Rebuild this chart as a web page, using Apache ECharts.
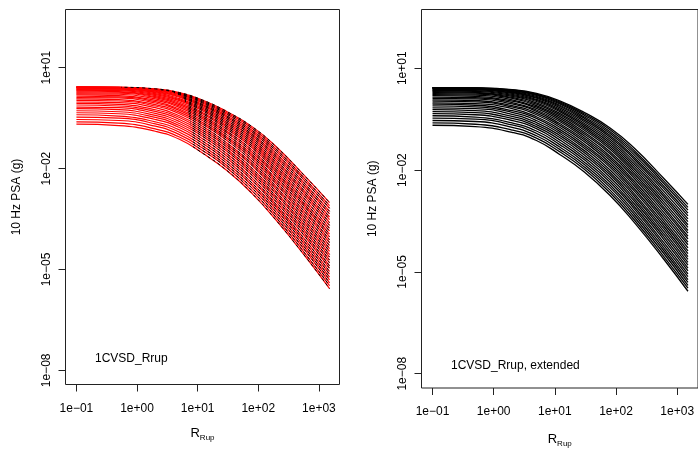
<!DOCTYPE html>
<html>
<head>
<meta charset="utf-8">
<script src="https://cdn.jsdelivr.net/npm/echarts@6/dist/echarts.min.js"></script>
<style>html,body{margin:0;padding:0;background:#fff}#c{width:698px;height:453px}</style>
</head>
<body>
<div id="c"></div>
<script>
const distanceKm = [0.1, 0.5, 2, 5, 12, 30, 80, 200, 600, 1500];

// log10 of 10 Hz PSA (g) for the 31 curves (lowest curve first) at each distance
const log10Psa_R0p1  = [-0.68,-0.61,-0.54,-0.47,-0.40,-0.34,-0.28,-0.22,-0.17,-0.11,-0.06,-0.02,0.03,0.07,0.11,0.15,0.19,0.22,0.25,0.28,0.31,0.33,0.35,0.37,0.39,0.40,0.41,0.42,0.43,0.43,0.43];
const log10Psa_R0p5  = [-0.72,-0.65,-0.57,-0.50,-0.44,-0.37,-0.31,-0.25,-0.19,-0.14,-0.09,-0.04,0.01,0.05,0.10,0.13,0.17,0.21,0.24,0.27,0.29,0.32,0.34,0.36,0.37,0.39,0.40,0.41,0.41,0.42,0.42];
const log10Psa_R2    = [-0.89,-0.82,-0.74,-0.67,-0.61,-0.54,-0.48,-0.42,-0.36,-0.30,-0.25,-0.19,-0.14,-0.10,-0.05,-0.01,0.03,0.07,0.11,0.14,0.17,0.20,0.23,0.26,0.28,0.30,0.32,0.33,0.35,0.36,0.37];
const log10Psa_R5    = [-1.13,-1.06,-0.99,-0.92,-0.85,-0.78,-0.72,-0.66,-0.60,-0.54,-0.48,-0.43,-0.37,-0.32,-0.27,-0.23,-0.18,-0.14,-0.10,-0.06,-0.02,0.02,0.05,0.08,0.12,0.14,0.17,0.20,0.22,0.24,0.26];
const log10Psa_R12   = [-1.54,-1.46,-1.39,-1.32,-1.25,-1.18,-1.11,-1.04,-0.98,-0.92,-0.86,-0.80,-0.74,-0.68,-0.63,-0.57,-0.52,-0.47,-0.42,-0.37,-0.33,-0.28,-0.24,-0.20,-0.16,-0.12,-0.09,-0.05,-0.02,0.01,0.04];
const log10Psa_R30   = [-2.05,-1.97,-1.90,-1.83,-1.76,-1.69,-1.62,-1.55,-1.48,-1.42,-1.35,-1.29,-1.23,-1.16,-1.10,-1.05,-0.99,-0.93,-0.88,-0.82,-0.77,-0.72,-0.67,-0.62,-0.57,-0.52,-0.47,-0.43,-0.38,-0.34,-0.30];
const log10Psa_R80   = [-2.75,-2.67,-2.59,-2.51,-2.44,-2.36,-2.29,-2.21,-2.14,-2.07,-2.00,-1.92,-1.86,-1.79,-1.72,-1.65,-1.59,-1.52,-1.46,-1.39,-1.33,-1.27,-1.21,-1.15,-1.09,-1.03,-0.98,-0.92,-0.87,-0.81,-0.76];
const log10Psa_R200  = [-3.55,-3.47,-3.39,-3.31,-3.23,-3.15,-3.08,-3.00,-2.92,-2.85,-2.77,-2.70,-2.62,-2.55,-2.47,-2.40,-2.33,-2.25,-2.18,-2.11,-2.04,-1.97,-1.90,-1.83,-1.76,-1.69,-1.63,-1.56,-1.49,-1.43,-1.36];
const log10Psa_R600  = [-4.62,-4.54,-4.45,-4.37,-4.29,-4.21,-4.13,-4.04,-3.96,-3.88,-3.80,-3.72,-3.64,-3.56,-3.48,-3.40,-3.32,-3.24,-3.16,-3.09,-3.01,-2.93,-2.85,-2.77,-2.70,-2.62,-2.54,-2.47,-2.39,-2.32,-2.24];
const log10Psa_R1500 = [-5.57,-5.48,-5.40,-5.31,-5.23,-5.14,-5.06,-4.97,-4.89,-4.80,-4.72,-4.63,-4.55,-4.46,-4.38,-4.29,-4.20,-4.12,-4.03,-3.95,-3.86,-3.78,-3.69,-3.61,-3.52,-3.44,-3.35,-3.27,-3.18,-3.10,-3.01];

// Distance (km) where each curve's black dashed (original-range) overlay begins, left panel
const blackStartKm = [8.5,8.4,8.3,8.2,8.1,8.0,7.9,7.8,7.7,7.6,7.5,7.4,7.3,7.2,7.1,7.0,6.9,6.8,6.7,6.6,6.5,6.4,6.3,6.2,6.0,5.7,5.3,4.8,4.0,2.5,0.55];

// Tick positions (decades)
const xTickExps = [-1, 0, 1, 2, 3];
const yTickExps = [-8, -5, -2, 1];

// Texts
const yTitle = '10 Hz PSA (g)';
const panelLabels = ['1CVSD_Rrup', '1CVSD_Rrup, extended'];

// ---------- build ----------
const columns = [log10Psa_R0p1, log10Psa_R0p5, log10Psa_R2, log10Psa_R5, log10Psa_R12,
                 log10Psa_R30, log10Psa_R80, log10Psa_R200, log10Psa_R600, log10Psa_R1500];
const nCurves = columns[0].length;
const curves = [];
for (let i = 0; i < nCurves; i++) {
  curves.push(distanceKm.map((r, j) => [Math.log10(r), columns[j][i]]));
}

const FONT = '"Liberation Sans", Arial, Helvetica, sans-serif';
const xRange = [-1.18, 3.34];
const yRange = [-8.42, 2.73];

function expLabel(v) {
  const n = Math.round(v);
  return '1e' + (n < 0 ? '\u2212' : '+') + String(Math.abs(n)).padStart(2, '0');
}

const grids = [
  {left: 65.5, top: 9.5, width: 274, height: 375, show: true, borderColor: '#222', borderWidth: 1, backgroundColor: 'transparent', containLabel: false},
  {left: 421.5, top: 9.5, width: 279, height: 384, show: true, borderColor: '#222', borderWidth: 1, backgroundColor: 'transparent', containLabel: false}
];

function makeX(gi, nameGap) {
  return {
    type: 'value', gridIndex: gi, min: xRange[0], max: xRange[1],
    axisLine: {show: false, onZero: false}, splitLine: {show: false},
    axisTick: {show: true, customValues: xTickExps, length: 7, lineStyle: {color: '#222', width: 1}},
    axisLabel: {customValues: xTickExps, formatter: expLabel, margin: 18, fontSize: 12, fontFamily: FONT, color: '#000'},
    name: '{r|R}{s|Rup}', nameLocation: 'middle', nameGap: nameGap,
    nameTextStyle: {fontFamily: FONT, color: '#000', fontSize: 12,
      rich: {r: {fontSize: 13, fontFamily: FONT, color: '#000'},
             s: {fontSize: 8, fontFamily: FONT, color: '#000', padding: [9, 0, 0, 0]}}}
  };
}
function makeY(gi, nameGap) {
  return {
    type: 'value', gridIndex: gi, min: yRange[0], max: yRange[1],
    axisLine: {show: false, onZero: false}, splitLine: {show: false},
    axisTick: {show: true, customValues: yTickExps, length: 7, lineStyle: {color: '#222', width: 1}},
    axisLabel: {customValues: yTickExps, formatter: expLabel, rotate: 90, margin: 13, fontSize: 12, fontFamily: FONT, color: '#000'},
    name: yTitle, nameLocation: 'middle', nameGap: nameGap, nameRotate: 90,
    nameTextStyle: {fontFamily: FONT, color: '#000', fontSize: 12}
  };
}

const series = [];
const visualMaps = [];
const SMOOTH = 0.5;
// Left panel: red full curves
curves.forEach(c => series.push({
  type: 'line', xAxisIndex: 0, yAxisIndex: 0, data: c, smooth: SMOOTH,
  symbol: 'none', silent: true, lineStyle: {color: '#ff0000', width: 1.2}
}));
// Left panel: black dashed overlay from each curve's start distance
curves.forEach((c, i) => {
  const idx = series.length;
  series.push({
    type: 'line', xAxisIndex: 0, yAxisIndex: 0, data: c, smooth: SMOOTH,
    symbol: 'none', silent: true, lineStyle: {width: 1, type: [3, 3]}
  });
  const s = Math.log10(blackStartKm[i]);
  visualMaps.push({
    type: 'piecewise', show: false, dimension: 0, seriesIndex: idx,
    pieces: [
      {lt: s, color: 'rgba(0,0,0,0)'},
      {gte: s, lte: 3.6, color: '#000000'},
      {gt: 3.6, color: '#000000'}
    ]
  });
});
// Right panel: black solid curves
curves.forEach(c => series.push({
  type: 'line', xAxisIndex: 1, yAxisIndex: 1, data: c, smooth: SMOOTH,
  symbol: 'none', silent: true, lineStyle: {color: '#000000', width: 1.3}
}));

const chart = echarts.init(document.getElementById('c'), null, {renderer: 'canvas'});
chart.setOption({
  animation: false,
  backgroundColor: '#ffffff',
  grid: grids,
  xAxis: [makeX(0, 40), makeX(1, 43)],
  yAxis: [makeY(0, 43), makeY(1, 43)],
  visualMap: visualMaps,
  series: series,
  graphic: [
    {type: 'text', left: 95, top: 353, style: {text: panelLabels[0], font: '12px ' + FONT, fill: '#000'}},
    {type: 'text', left: 451, top: 360, style: {text: panelLabels[1], font: '12px ' + FONT, fill: '#000'}}
  ]
});
</script>
</body>
</html>
